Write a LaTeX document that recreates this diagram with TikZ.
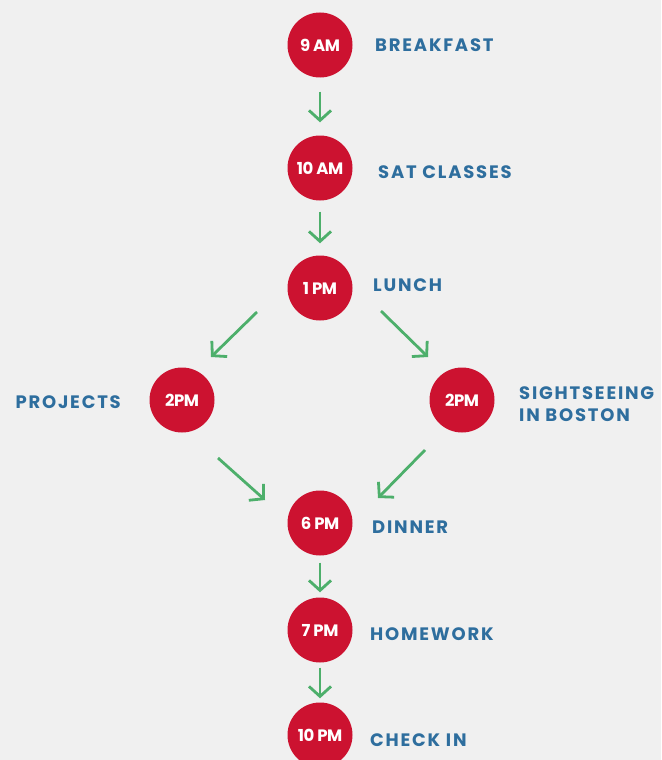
\documentclass[tikz,border=0pt]{standalone}
\usepackage{fontspec}
\setmainfont{Poppins}
\usetikzlibrary{arrows.meta}
\definecolor{bgc}{HTML}{F0F0F0}
\definecolor{redc}{HTML}{CC1230}
\definecolor{bluec}{HTML}{2E6E9E}
\definecolor{greenc}{HTML}{4DAF6B}
\newfontfamily\lblfont[LetterSpace=10]{Poppins}
\newfontfamily\timefont[LetterSpace=-3]{Poppins}
\begin{document}
\begin{tikzpicture}[x=1pt,y=-1pt,
  timec/.style={circle,fill=redc,minimum size=65pt,inner sep=0pt,text=white,font=\timefont\fontsize{16.5}{18}\selectfont\bfseries},
  lbl/.style={text=bluec,font=\lblfont\fontsize{18}{20}\selectfont\bfseries,inner sep=0pt},
  flow/.style={draw=greenc,line width=2.8pt,-{Straight Barb[length=10pt,width=22pt,line width=2.8pt]}}]
\fill[bgc] (0,0) rectangle (661,760);
\useasboundingbox (0,0) rectangle (661,760);
\node[timec] (t9) at (320,45) {9 AM};
\node[timec] (t10) at (320,168) {10 AM};
\node[timec] (t1) at (320,288) {1 PM};
\node[timec] (t2l) at (182,400) {2PM};
\node[timec] (t2r) at (462,400) {2PM};
\node[timec] (t6) at (320,523) {6 PM};
\node[timec] (t7) at (320,630) {7 PM};
\node[timec] (t10p) at (320,735) {10 PM};
\node[lbl,anchor=west] (l9) at (375,45) {BREAKFAST};
\node[lbl,anchor=west] (l10) at (378,172) {SAT CLASSES};
\node[lbl,anchor=west] (l1) at (373,285) {LUNCH};
\node[lbl,anchor=east] (l2l) at (121,402) {PROJECTS};
\node[lbl,anchor=west,align=left,font=\lblfont\fontsize{18}{22}\selectfont\bfseries] (l2r) at (519,404) {SIGHTSEEING\\IN BOSTON};
\node[lbl,anchor=west] (l6) at (372,527) {DINNER};
\node[lbl,anchor=west] (l7) at (370,634) {HOMEWORK};
\node[lbl,anchor=west] (l10p) at (370,740) {CHECK IN};
\coordinate (a1s) at (257,312); \coordinate (a1e) at (211,357);
\coordinate (a2s) at (381,311); \coordinate (a2e) at (428,357);
\coordinate (a3s) at (218,458); \coordinate (a3e) at (265,500);
\coordinate (a4s) at (425,450); \coordinate (a4e) at (378,498);
\draw[flow,shorten <=14pt,shorten >=13pt] (t9) -- (t10);
\draw[flow,shorten <=11pt,shorten >=12pt] (t10) -- (t1);
\draw[flow] (a1s) -- (a1e);
\draw[flow] (a2s) -- (a2e);
\draw[flow] (a3s) -- (a3e);
\draw[flow] (a4s) -- (a4e);
\draw[flow,shorten <=7pt,shorten >=5pt] (t6) -- (t7);
\draw[flow,shorten <=5pt,shorten >=4pt] (t7) -- (t10p);
\end{tikzpicture}
\end{document}
